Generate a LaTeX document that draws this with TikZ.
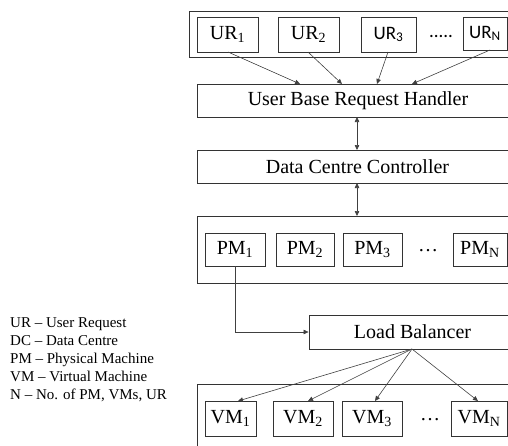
\documentclass[tikz,border=0pt]{standalone}
\usepackage{fontspec}
\setmainfont{Liberation Serif}
\newfontfamily\calib{Carlito}
\usetikzlibrary{arrows.meta}
\tikzset{
  box/.style={draw=black!80, line width=0.9pt, rectangle, inner sep=0pt, font=\fontsize{20}{22}\selectfont},
  conn/.style={draw=black!75, line width=0.6pt, -{Triangle[length=5pt,width=4.5pt]}},
  dconn/.style={draw=black!75, line width=0.6pt, {Triangle[length=5pt,width=4.5pt]}-{Triangle[length=5pt,width=4.5pt]}},
  dotsnode/.style={inner sep=0pt, font=\fontsize{20}{22}\selectfont},
}
\begin{document}
\begin{tikzpicture}[x=1pt,y=-1pt]
\useasboundingbox (0,0) rectangle (508,445);
\clip (0,0) rectangle (508,445);
% UR row
\node[box, minimum width=323pt, minimum height=46pt] (urouter) at (350.5,34) {};
\node[box, minimum width=61pt, minimum height=35pt] (ur1) at (227.5,34.5) {UR\textsubscript{1}};
\node[box, minimum width=61pt, minimum height=35pt] (ur2) at (308.5,34.5) {UR\textsubscript{2}};
\node[box, minimum width=55pt, minimum height=35pt, font=\calib\fontsize{19}{21}\selectfont] (ur3) at (388.5,34.5) {UR\textsubscript{3}};
\node[dotsnode, font=\calib\fontsize{19}{21}\selectfont] (urdots) at (441,36) {.....};
\node[box, minimum width=44pt, minimum height=33pt, font=\calib\fontsize{19}{21}\selectfont] (urn) at (485,33.5) {UR\textsubscript{N}};
% handler and controller
\node[box, minimum width=315pt, minimum height=33pt] (ubrh) at (354.5,100.5) {\hspace*{7pt}User Base Request Handler};
\node[box, minimum width=315pt, minimum height=33pt] (dcc) at (354.5,166.5) {\hspace*{6pt}Data Centre Controller};
% PM row
\node[box, minimum width=315pt, minimum height=67pt] (pmouter) at (354.5,249.5) {};
\node[box, minimum width=60pt, minimum height=33pt] (pm1) at (235,249.5) {PM\textsubscript{1}};
\node[box, minimum width=58pt, minimum height=33pt] (pm2) at (305,249.5) {PM\textsubscript{2}};
\node[box, minimum width=59pt, minimum height=33pt] (pm3) at (372.5,249.5) {PM\textsubscript{3}};
\node[dotsnode] (pmdots) at (428,251) {\ldots};
\node[box, minimum width=54pt, minimum height=33pt] (pmn) at (480,249.5) {PM\textsubscript{N}};
% load balancer
\node[box, minimum width=203pt, minimum height=34pt] (lb) at (410.5,332) {\hspace*{4pt}Load Balancer};
% VM row
\node[box, minimum width=315pt, minimum height=76pt] (vmouter) at (354.5,422) {};
\node[box, minimum width=51pt, minimum height=35pt] (vm1) at (230.5,418.5) {VM\textsubscript{1}};
\node[box, minimum width=60pt, minimum height=35pt] (vm2) at (303,418.5) {VM\textsubscript{2}};
\node[box, minimum width=60pt, minimum height=35pt] (vm3) at (372,418.5) {VM\textsubscript{3}};
\node[dotsnode] (vmdots) at (430,420) {\ldots};
\node[box, minimum width=56pt, minimum height=35pt] (vmn) at (479,418.5) {VM\textsubscript{N}};
% legend
\node[anchor=north west, align=left, inner sep=0pt, font=\fontsize{15}{18}\selectfont] (legend) at (10,317)
  {UR -- User Request\\DC -- Data Centre\\PM -- Physical Machine\\VM -- Virtual Machine\\N -- No. of PM, VMs, UR};
% connector end points
\coordinate (h1) at (300,84);
\coordinate (h2) at (342,84);
\coordinate (h3) at (377,84);
\coordinate (h4) at (412,84);
\coordinate (s1) at (228,52);
\coordinate (s2) at (308,52);
\coordinate (s3) at (388,52);
\coordinate (s4) at (490,50);
\coordinate (hb) at (357,117);
\coordinate (ct) at (357,150);
\coordinate (cb) at (357,183);
\coordinate (pt) at (357,216);
\coordinate (lbs) at (412,349);
\coordinate (v1) at (238,401);
\coordinate (v2) at (308,401);
\coordinate (v3) at (375,401);
\coordinate (v4) at (478,401);
% connectors
\draw[conn] (s1) -- (h1);
\draw[conn] (s2) -- (h2);
\draw[conn] (s3) -- (h3);
\draw[conn] (s4) -- (h4);
\draw[dconn] (hb) -- (ct);
\draw[dconn] (cb) -- (pt);
\draw[conn] (pm1.south) |- (lb.west);
\draw[conn] (lbs) -- (v1);
\draw[conn] (lbs) -- (v2);
\draw[conn] (lbs) -- (v3);
\draw[conn] (lbs) -- (v4);
\end{tikzpicture}
\end{document}
